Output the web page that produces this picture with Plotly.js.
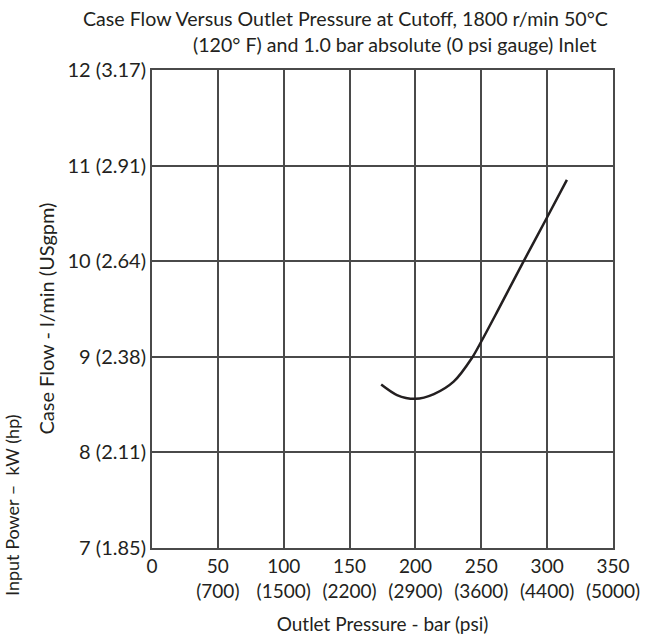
<!DOCTYPE html>
<html>
<head>
<meta charset="utf-8">
<script src="https://cdn.plot.ly/plotly-3.0.1.min.js"></script>
<style>html,body{margin:0;padding:0;background:#fff;}#chart{width:653px;height:638px;}</style>
</head>
<body>
<div id="chart"></div>
<script>
// Curve: outlet pressure (bar) vs case flow (l/min)
const pressureBar = [174, 186, 200, 214, 229, 243, 250, 262, 281, 300, 315];
const caseFlow    = [8.71, 8.60, 8.56, 8.61, 8.74, 8.99, 9.16, 9.47, 9.97, 10.46, 10.85];

const xTickVals   = [0, 50, 100, 150, 200, 250, 300, 350];
const xTickText   = ["0", "50<br>(700)", "100<br>(1500)", "150<br>(2200)", "200<br>(2900)", "250<br>(3600)", "300<br>(4400)", "350<br>(5000)"];
const yTickVals   = [7, 8, 9, 10, 11, 12];
const yTickText   = ["7 (1.85)", "8 (2.11)", "9 (2.38)", "10 (2.64)", "11 (2.91)", "12 (3.17)"];

const FONT = "Lato, sans-serif";
const TXT = "#231f20";

const trace = {
  x: pressureBar, y: caseFlow, type: "scatter", mode: "lines",
  line: {color: "#231f20", width: 2.5, shape: "spline", smoothing: 0.8},
  hoverinfo: "skip", showlegend: false
};

const layout = {
  width: 653, height: 638,
  margin: {l: 152, r: 40, t: 70, b: 90},
  paper_bgcolor: "#fff", plot_bgcolor: "#fff",
  font: {family: FONT, size: 19, color: TXT},
  xaxis: {
    range: [0, 350], tickvals: xTickVals, ticktext: xTickText,
    showgrid: true, gridcolor: "#4a4a4a", gridwidth: 2,
    showline: true, linecolor: "#4a4a4a", linewidth: 2, mirror: true,
    zeroline: false, ticks: "", tickfont: {family: FONT, size: 19, color: TXT},
    title: {text: "Outlet Pressure - bar (psi)", font: {family: FONT, size: 19, color: TXT}, standoff: 17},
    fixedrange: true
  },
  yaxis: {
    range: [7, 12], tickvals: yTickVals, ticktext: yTickText,
    showgrid: true, gridcolor: "#4a4a4a", gridwidth: 2,
    showline: true, linecolor: "#4a4a4a", linewidth: 2, mirror: true,
    zeroline: false, ticks: "", tickfont: {family: FONT, size: 20, color: TXT},
    fixedrange: true
  },
  annotations: [
    {text: "Case Flow Versus Outlet Pressure at Cutoff, 1800 r/min 50°C", xref: "paper", yref: "paper",
     x: 0.42, y: 1, yshift: 52, xanchor: "center", yanchor: "middle", showarrow: false,
     font: {family: FONT, size: 19.6, color: TXT}},
    {text: "(120° F) and 1.0 bar absolute (0 psi gauge) Inlet", xref: "paper", yref: "paper",
     x: 0.525, y: 1, yshift: 26, xanchor: "center", yanchor: "middle", showarrow: false,
     font: {family: FONT, size: 19.6, color: TXT}},
    {text: "Case Flow - l/min (USgpm)", xref: "paper", yref: "paper",
     x: 0, xshift: -106, y: 0.48, xanchor: "center", yanchor: "middle", textangle: -90, showarrow: false,
     font: {family: FONT, size: 20, color: TXT}},
    {text: "Input Power –  kW (hp)", xref: "paper", yref: "paper",
     x: 0, xshift: -140, y: 0.09, xanchor: "center", yanchor: "middle", textangle: -90, showarrow: false,
     font: {family: FONT, size: 18, color: TXT}}
  ]
};

Plotly.newPlot("chart", [trace], layout, {staticPlot: true, displayModeBar: false});
</script>
</body>
</html>
